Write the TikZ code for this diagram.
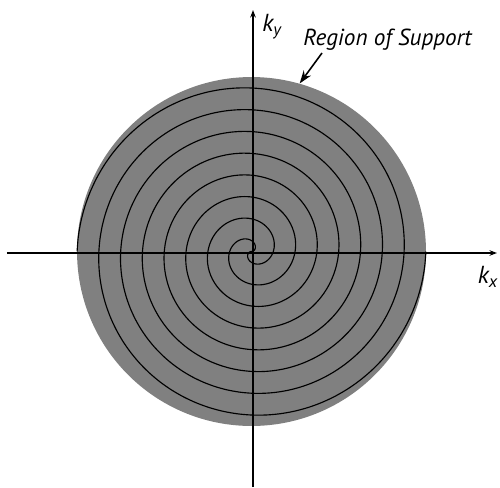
\documentclass[tikz,border=0pt]{standalone}
\usepackage{fontspec}
\setmainfont{PT Sans}
\usetikzlibrary{arrows.meta,positioning,calc}

\begin{document}
\begin{tikzpicture}[
  x=0.02cm, y=0.02cm,
  axis/.style={-{Stealth[length=1.5mm,width=1.1mm]}, line width=0.7pt},
  spiral/.style={line width=0.65pt},
  pointer/.style={-{Stealth[length=2.6mm,width=1.8mm]}, line width=0.9pt},
  lbl/.style={inner sep=0pt, font=\fontsize{14}{16}\selectfont\itshape}
]
\useasboundingbox (-253,-234) rectangle (247,253);
\coordinate (o) at (0,0);
\coordinate (c) at (-1.5,1.5);
\node[circle, fill=gray, inner sep=0pt, minimum size=6.98cm] (support) at (c) {};
\draw[spiral, shift={(c)}] plot[domain=-1440:1440, samples=577, smooth, variable=\t]
  ({6.94*\t/57.2958*cos(abs(\t))}, {6.94*\t/57.2958*sin(abs(\t))});
\coordinate (xl) at (-246,0);
\coordinate (xr) at (244,0);
\coordinate (yb) at (0,-234);
\coordinate (yt) at (0,243);
\draw[axis] (xl) -- (xr);
\draw[axis] (yb) -- (yt);
\node[lbl] (ky) at (19,226) {k\textsubscript{y}};
\node[lbl] (kx) at (235,-24) {k\textsubscript{x}};
\node[lbl, font=\fontsize{13.2}{15}\selectfont\itshape, anchor=base west] (ros) at (50,208) {Region of Support};
\draw[pointer] ([shift={(19,-8)}]ros.base west) -- (support.74);
\end{tikzpicture}
\end{document}
